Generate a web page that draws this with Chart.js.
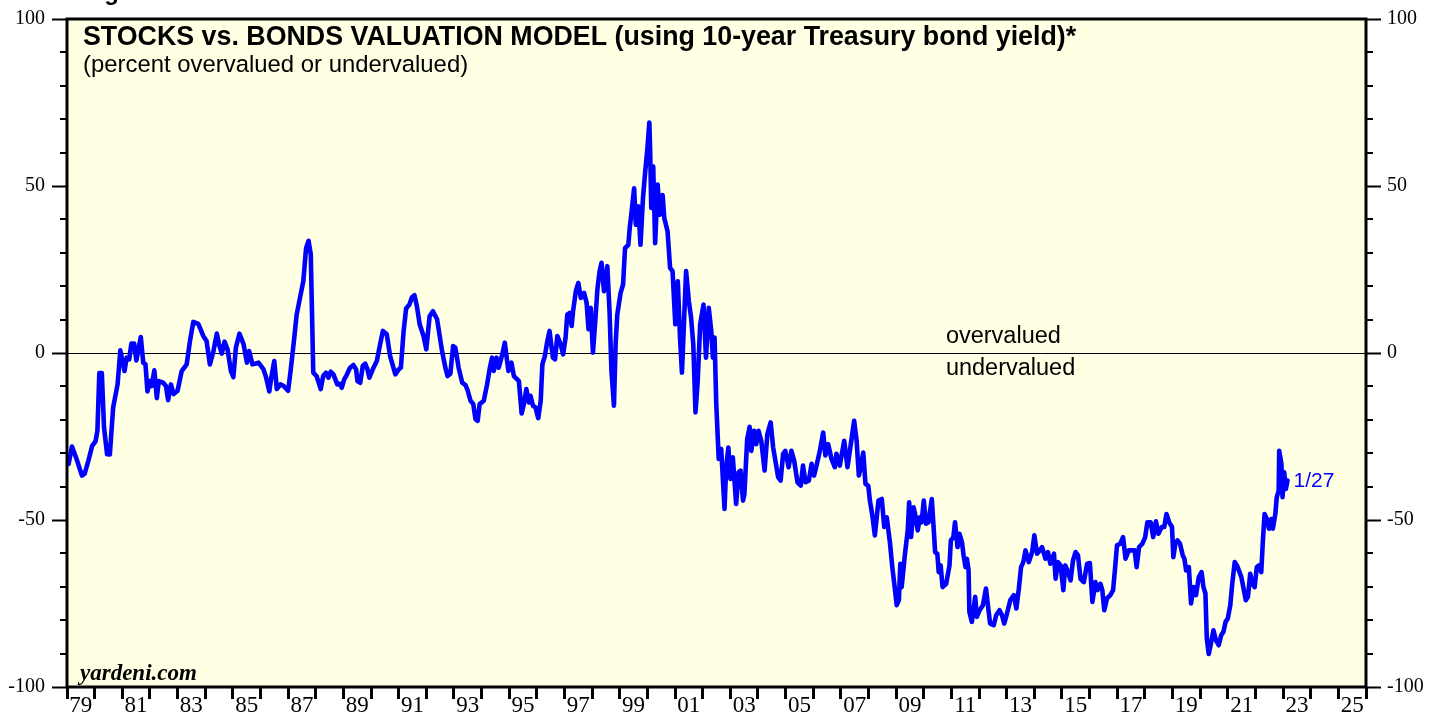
<!DOCTYPE html>
<html>
<head>
<meta charset="utf-8">
<script src="https://cdn.jsdelivr.net/npm/chart.js@4.4.0/dist/chart.umd.min.js"></script>
<style>
  html, body { margin: 0; padding: 0; background: #ffffff; }
  #wrap { width: 1439px; height: 719px; position: relative; overflow: hidden; }
</style>
</head>
<body>
<div id="wrap"><canvas id="valuationChart" width="1439" height="719"></canvas></div>
<script>
"use strict";

// weekly-ish readings of the model, decimal years
var dates = [
    1979.06, 1979.18, 1979.34, 1979.54, 1979.64, 1979.76, 1979.91, 1980.03, 1980.10, 1980.17,
    1980.26, 1980.34, 1980.45, 1980.55, 1980.67, 1980.83, 1980.93, 1981.08, 1981.16, 1981.25,
    1981.33, 1981.43, 1981.51, 1981.67, 1981.76, 1981.84, 1981.91, 1982.00, 1982.06, 1982.16,
    1982.25, 1982.32, 1982.48, 1982.58, 1982.66, 1982.76, 1982.86, 1983.00, 1983.15, 1983.33,
    1983.45, 1983.57, 1983.75, 1983.93, 1984.05, 1984.17, 1984.30, 1984.42, 1984.50, 1984.60,
    1984.70, 1984.81, 1984.93, 1985.02, 1985.11, 1985.24, 1985.39, 1985.51, 1985.59, 1985.71,
    1985.93, 1986.11, 1986.20, 1986.32, 1986.39, 1986.50, 1986.59, 1986.72, 1986.84, 1987.00,
    1987.09, 1987.21, 1987.31, 1987.43, 1987.55, 1987.65, 1987.74, 1987.82, 1987.91, 1988.03,
    1988.18, 1988.27, 1988.37, 1988.46, 1988.54, 1988.64, 1988.78, 1988.86, 1988.94, 1989.03,
    1989.12, 1989.24, 1989.36, 1989.46, 1989.51, 1989.61, 1989.70, 1989.79, 1989.87, 1989.94,
    1990.09, 1990.21, 1990.33, 1990.43, 1990.57, 1990.69, 1990.88, 1991.00, 1991.08, 1991.18,
    1991.27, 1991.39, 1991.48, 1991.57, 1991.66, 1991.76, 1991.90, 1992.00, 1992.12, 1992.24,
    1992.39, 1992.57, 1992.69, 1992.77, 1992.87, 1992.97, 1993.05, 1993.17, 1993.30, 1993.42,
    1993.50, 1993.60, 1993.70, 1993.78, 1993.86, 1993.93, 1994.08, 1994.20, 1994.30, 1994.38,
    1994.44, 1994.54, 1994.62, 1994.75, 1994.84, 1994.97, 1995.08, 1995.17, 1995.29, 1995.35,
    1995.45, 1995.53, 1995.62, 1995.71, 1995.77, 1995.86, 1995.95, 1996.05, 1996.14, 1996.20,
    1996.29, 1996.38, 1996.46, 1996.58, 1996.66, 1996.74, 1996.86, 1996.95, 1997.04, 1997.10,
    1997.19, 1997.26, 1997.31, 1997.41, 1997.50, 1997.59, 1997.71, 1997.80, 1997.87, 1997.95,
    1998.03, 1998.13, 1998.19, 1998.27, 1998.34, 1998.43, 1998.55, 1998.63, 1998.70, 1998.79,
    1998.85, 1998.91, 1999.03, 1999.12, 1999.19, 1999.31, 1999.36, 1999.43, 1999.52, 1999.58,
    1999.67, 1999.75, 1999.84, 1999.91, 2000.00, 2000.07, 2000.10, 2000.14, 2000.21, 2000.28,
    2000.37, 2000.45, 2000.55, 2000.61, 2000.73, 2000.82, 2000.91, 2001.01, 2001.10, 2001.18,
    2001.25, 2001.34, 2001.40, 2001.50, 2001.58, 2001.66, 2001.74, 2001.82, 2001.91, 2002.03,
    2002.12, 2002.22, 2002.31, 2002.37, 2002.43, 2002.49, 2002.58, 2002.67, 2002.79, 2002.85,
    2002.93, 2003.00, 2003.09, 2003.21, 2003.30, 2003.37, 2003.46, 2003.51, 2003.61, 2003.70,
    2003.76, 2003.86, 2003.94, 2004.02, 2004.12, 2004.24, 2004.34, 2004.46, 2004.55, 2004.63,
    2004.73, 2004.82, 2004.91, 2004.99, 2005.11, 2005.21, 2005.31, 2005.43, 2005.55, 2005.63,
    2005.72, 2005.84, 2005.94, 2006.03, 2006.12, 2006.24, 2006.36, 2006.44, 2006.54, 2006.66,
    2006.78, 2006.84, 2006.96, 2007.12, 2007.24, 2007.36, 2007.48, 2007.57, 2007.65, 2007.72,
    2007.81, 2007.89, 2007.99, 2008.05, 2008.14, 2008.23, 2008.36, 2008.48, 2008.57, 2008.66,
    2008.78, 2008.86, 2008.96, 2009.02, 2009.10, 2009.15, 2009.20, 2009.32, 2009.42, 2009.47,
    2009.54, 2009.63, 2009.71, 2009.78, 2009.86, 2009.92, 2010.00, 2010.08, 2010.17, 2010.29,
    2010.37, 2010.41, 2010.49, 2010.54, 2010.61, 2010.68, 2010.81, 2010.93, 2010.98, 2011.07,
    2011.13, 2011.22, 2011.29, 2011.38, 2011.44, 2011.51, 2011.56, 2011.62, 2011.65, 2011.74,
    2011.86, 2011.92, 2012.02, 2012.14, 2012.25, 2012.32, 2012.40, 2012.53, 2012.62, 2012.74,
    2012.83, 2012.91, 2013.01, 2013.13, 2013.26, 2013.35, 2013.44, 2013.52, 2013.60, 2013.68,
    2013.80, 2013.92, 2014.00, 2014.10, 2014.20, 2014.28, 2014.40, 2014.49, 2014.58, 2014.71,
    2014.77, 2014.85, 2014.95, 2015.05, 2015.12, 2015.22, 2015.31, 2015.40, 2015.49, 2015.58,
    2015.67, 2015.79, 2015.91, 2016.01, 2016.10, 2016.21, 2016.29, 2016.39, 2016.46, 2016.53,
    2016.63, 2016.75, 2016.85, 2016.93, 2016.99, 2017.11, 2017.21, 2017.30, 2017.42, 2017.54,
    2017.63, 2017.70, 2017.79, 2017.91, 2018.01, 2018.09, 2018.21, 2018.30, 2018.40, 2018.49,
    2018.61, 2018.70, 2018.78, 2018.88, 2018.98, 2019.03, 2019.10, 2019.18, 2019.27, 2019.37,
    2019.43, 2019.49, 2019.59, 2019.67, 2019.76, 2019.85, 2019.95, 2020.05, 2020.12, 2020.19,
    2020.24, 2020.31, 2020.39, 2020.48, 2020.57, 2020.67, 2020.76, 2020.84, 2020.92, 2021.00,
    2021.09, 2021.16, 2021.25, 2021.33, 2021.40, 2021.49, 2021.57, 2021.65, 2021.73, 2021.81,
    2021.89, 2021.97, 2022.05, 2022.13, 2022.21, 2022.27, 2022.33, 2022.41, 2022.49, 2022.57,
    2022.63, 2022.72, 2022.77, 2022.84, 2022.86, 2022.94, 2022.98, 2023.04, 2023.10, 2023.16
];

// percent overvalued (+) or undervalued (-)
var valuation = [
    -33.2, -28.0, -31.6, -36.7, -36.1, -32.7, -27.8, -26.5, -23.3, -6.0,
    -6.0, -22.3, -30.3, -30.4, -16.3, -9.4, 0.8, -5.4, -1.4, -1.9,
    2.8, 2.8, -2.2, 4.8, -2.9, -3.4, -11.5, -8.4, -9.9, -5.2,
    -13.5, -8.4, -8.9, -9.9, -14.1, -9.4, -12.3, -11.3, -5.4, -3.4,
    3.6, 9.3, 8.7, 5.1, 3.6, -3.4, 0.6, 5.8, 2.6, -0.2,
    3.4, 1.1, -5.4, -7.2, 1.6, 5.8, 2.6, -2.9, 0.6, -3.4,
    -2.9, -4.9, -7.2, -11.5, -7.4, -2.4, -10.8, -9.4, -9.9, -11.3,
    -5.4, 3.6, 11.5, 16.5, 21.5, 31.4, 33.6, 29.5, -5.9, -6.9,
    -10.8, -6.9, -5.9, -7.4, -5.6, -6.4, -9.4, -9.2, -10.4, -7.9,
    -6.6, -4.4, -3.6, -4.9, -8.4, -8.9, -3.9, -3.2, -4.9, -7.4,
    -4.4, -2.4, 2.6, 6.6, 5.6, -0.9, -6.4, -4.9, -4.4, 6.6,
    13.3, 14.5, 16.7, 17.3, 14.0, 8.6, 5.1, 1.1, 11.0, 12.5,
    10.1, 0.6, -4.4, -6.9, -6.2, 2.1, 1.6, -4.4, -8.9, -9.6,
    -11.3, -14.3, -15.3, -19.8, -20.3, -15.3, -14.3, -9.4, -4.4, -1.4,
    -5.4, -1.4, -4.4, -0.4, 3.1, -5.4, -2.9, -6.9, -7.9, -8.4,
    -18.1, -15.3, -10.8, -14.8, -12.8, -15.8, -16.3, -19.5, -14.3, -3.4,
    -0.9, 3.6, 6.6, -1.4, -1.9, 5.1, 2.6, -0.4, 4.6, 11.5,
    12.0, 8.1, 12.5, 18.5, 21.0, 16.5, 18.0, 15.0, 7.1, 13.5,
    0.1, 11.5, 19.0, 24.5, 27.0, 18.5, 26.0, 12.5, -5.4, -15.8,
    2.6, 11.5, 18.0, 20.5, 31.4, 32.4, 37.4, 42.4, 49.3, 38.4,
    43.9, 32.4, 46.4, 53.3, 61.3, 69.0, 60.3, 43.4, 55.8, 32.9,
    50.4, 41.4, 47.3, 40.4, 36.4, 25.5, 24.5, 8.6, 21.5, 4.6,
    -5.9, 12.5, 24.5, 15.5, 10.6, 2.6, -17.8, -8.4, 8.6, 14.5,
    -1.4, 13.5, 6.6, -1.4, 4.6, -15.0, -31.7, -28.7, -46.7, -34.2,
    -28.3, -37.7, -31.2, -45.2, -35.7, -35.2, -44.2, -42.2, -25.8, -22.1,
    -29.3, -23.3, -27.3, -23.3, -26.3, -35.2, -24.3, -20.8, -28.3, -32.2,
    -37.2, -38.2, -30.2, -29.3, -34.2, -29.3, -32.2, -38.7, -39.7, -33.7,
    -38.7, -38.2, -33.2, -36.7, -33.7, -29.3, -23.8, -30.7, -27.3, -31.7,
    -34.2, -30.2, -33.7, -26.3, -34.2, -27.3, -20.3, -26.3, -36.7, -34.2,
    -29.8, -39.2, -39.7, -44.2, -48.7, -54.6, -44.2, -43.7, -52.1, -49.2,
    -57.1, -64.1, -71.0, -75.5, -74.0, -63.1, -70.1, -60.1, -53.1, -44.7,
    -55.1, -46.2, -49.2, -53.1, -49.2, -50.7, -44.2, -51.1, -50.7, -43.7,
    -54.1, -59.6, -60.1, -65.6, -63.6, -70.1, -69.1, -63.6, -56.1, -55.1,
    -50.7, -58.1, -54.1, -56.6, -60.6, -64.1, -61.6, -65.1, -77.5, -80.5,
    -73.0, -79.0, -77.0, -75.5, -70.5, -75.5, -81.0, -81.5, -78.5, -77.0,
    -78.5, -81.0, -78.0, -74.0, -72.5, -76.5, -70.5, -64.1, -62.6, -59.1,
    -62.6, -59.6, -54.6, -60.1, -59.1, -58.1, -61.6, -59.6, -63.1, -60.1,
    -67.6, -62.6, -63.6, -71.0, -63.6, -65.6, -68.1, -62.1, -59.6, -60.6,
    -67.6, -68.6, -63.1, -62.9, -74.5, -68.6, -71.0, -69.1, -71.0, -77.0,
    -73.5, -72.5, -71.0, -63.6, -57.6, -57.1, -55.1, -61.6, -59.1, -59.1,
    -59.1, -64.1, -58.1, -57.1, -55.1, -50.7, -50.7, -55.1, -50.4, -54.1,
    -52.1, -52.1, -48.2, -50.7, -52.1, -61.1, -57.1, -56.1, -57.1, -60.6,
    -61.6, -65.1, -64.1, -75.0, -70.1, -72.5, -67.1, -65.6, -70.1, -72.0,
    -85.5, -90.1, -87.0, -83.0, -86.0, -87.5, -84.5, -83.5, -80.5, -79.5,
    -75.5, -69.1, -62.6, -63.6, -65.1, -67.1, -70.5, -74.0, -73.0, -66.1,
    -69.1, -70.1, -64.1, -63.6, -65.6, -56.1, -48.2, -49.7, -52.6, -49.7,
    -52.6, -48.2, -43.2, -41.2, -29.3, -33.2, -43.2, -35.7, -40.7, -38.2
];

var lastLabel = '1/27';

// year ticks on the bottom axis; labels sit half a year in, odd years only
var yearTicks = [];
for (var yr = 1979; yr <= 2026; yr++) {
    yearTicks.push(yr);
    if (yr % 2 === 1 && yr < 2026) yearTicks.push(yr + 0.5);
}

var BG = '#FFFFE4';
var BLUE = '#0000FF';

var points = dates.map(function (d, i) { return { x: d, y: valuation[i] }; });

var decor = {
    id: 'decor',
    beforeDraw: function (chart) {
        var a = chart.chartArea, ctx = chart.ctx;
        ctx.save();
        ctx.fillStyle = BG;
        ctx.fillRect(a.left, a.top, a.right - a.left, a.bottom - a.top);
        ctx.restore();
    },
    afterDraw: function (chart) {
        var a = chart.chartArea, ctx = chart.ctx;
        var ys = chart.scales.y, xs = chart.scales.x;
        ctx.save();
        // frame
        ctx.strokeStyle = '#000';
        ctx.lineWidth = 3;
        ctx.strokeRect(a.left, a.top, a.right - a.left, a.bottom - a.top);

        // minor ticks every 10 on both sides
        ctx.lineWidth = 2;
        for (var v = -90; v <= 90; v += 10) {
            if (v % 50 === 0) continue;
            var py = Math.round(ys.getPixelForValue(v));
            ctx.beginPath();
            ctx.moveTo(a.left - 7, py); ctx.lineTo(a.left, py);
            ctx.moveTo(a.right, py); ctx.lineTo(a.right + 7, py);
            ctx.stroke();
        }

        // texts
        ctx.fillStyle = '#000';
        ctx.textAlign = 'left';
        ctx.textBaseline = 'alphabetic';
        ctx.font = 'bold 24px "Liberation Sans", Arial, sans-serif';
        ctx.fillText('Figure 1.', 83, 0);

        ctx.font = 'bold 26.8px "Liberation Sans", Arial, sans-serif';
        ctx.fillText('STOCKS vs. BONDS VALUATION MODEL (using 10-year Treasury bond yield)*', a.left + 16, 45);
        ctx.font = '23.9px "Liberation Sans", Arial, sans-serif';
        ctx.fillText('(percent overvalued or undervalued)', a.left + 16, 72);

        ctx.font = '23.5px "Liberation Sans", Arial, sans-serif';
        var tx = xs.getPixelForValue(2010.8);
        ctx.fillText('overvalued', tx, ys.getPixelForValue(0) - 10);
        ctx.fillText('undervalued', tx, ys.getPixelForValue(0) + 22);

        ctx.font = 'italic bold 23px "Liberation Serif", "Times New Roman", serif';
        ctx.fillText('yardeni.com', a.left + 13, a.bottom - 7);

        var n = dates.length - 1;
        ctx.fillStyle = BLUE;
        ctx.font = '21px "Liberation Sans", Arial, sans-serif';
        ctx.textBaseline = 'middle';
        ctx.fillText(lastLabel, xs.getPixelForValue(dates[n]) + 6, ys.getPixelForValue(valuation[n]) + 1);
        ctx.restore();
    }
};

var tickFont = { family: '"Liberation Serif", "Times New Roman", serif', size: 20 };

function yAxis(position, width, pad, onArea) {
    return {
        type: 'linear',
        position: position,
        min: -100,
        max: 100,
        afterFit: function (scale) { scale.width = width; },
        border: { display: false },
        grid: {
            drawOnChartArea: onArea,
            color: function (c) { return c.tick && c.tick.value === 0 ? '#000' : 'rgba(0,0,0,0)'; },
            lineWidth: 1,
            tickLength: 15,
            tickWidth: 2,
            tickColor: function (c) { return c.tick && c.tick.value % 50 === 0 ? '#000' : 'rgba(0,0,0,0)'; }
        },
        ticks: {
            stepSize: 10,
            padding: pad,
            color: '#000',
            font: tickFont,
            callback: function (v) { return v % 50 === 0 ? String(v) : ''; }
        }
    };
}

new Chart(document.getElementById('valuationChart').getContext('2d'), {
    type: 'line',
    data: {
        datasets: [{
            label: 'Stocks vs bonds valuation',
            data: points,
            borderColor: BLUE,
            borderWidth: 4.6,
            pointRadius: 0,
            tension: 0,
            borderJoinStyle: 'round',
            borderCapStyle: 'round',
            yAxisID: 'y'
        }]
    },
    options: {
        responsive: false,
        animation: false,
        layout: { padding: { top: 17, left: 0, right: 0, bottom: 0 } },
        plugins: {
            legend: { display: false },
            tooltip: { enabled: false },
            title: { display: false }
        },
        scales: {
            x: {
                type: 'linear',
                min: 1979,
                max: 2026,
                afterBuildTicks: function (scale) {
                    scale.ticks = yearTicks.map(function (v) { return { value: v }; });
                },
                afterFit: function (scale) { scale.height = 32; },
                border: { display: false },
                grid: {
                    drawOnChartArea: false,
                    drawTicks: true,
                    tickLength: 12,
                    tickWidth: 3,
                    tickColor: function (c) {
                        return c.tick && Number.isInteger(c.tick.value) ? '#000' : 'rgba(0,0,0,0)';
                    }
                },
                ticks: {
                    autoSkip: false,
                    maxRotation: 0,
                    minRotation: 0,
                    padding: -7,
                    color: '#000',
                    font: { family: '"Liberation Serif", "Times New Roman", serif', size: 23 },
                    callback: function (v) {
                        if (Number.isInteger(v)) return '';
                        var y = Math.floor(v) % 100;
                        return (y < 10 ? '0' : '') + y;
                    }
                }
            },
            y: yAxis('left', 67, 7, true),
            y2: yAxis('right', 73, 6, false)
        }
    },
    plugins: [decor]
});
</script>
</body>
</html>
